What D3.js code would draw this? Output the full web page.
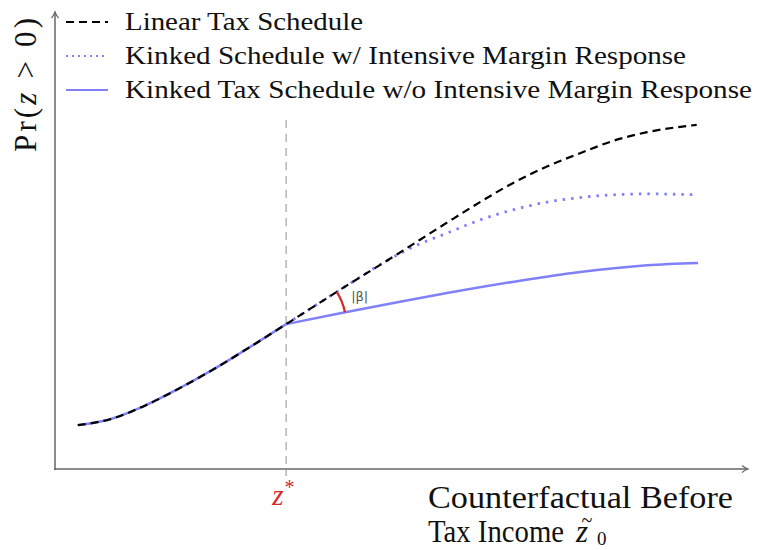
<!DOCTYPE html>
<html>
<head>
<meta charset="utf-8">
<script src="https://cdn.jsdelivr.net/npm/d3@7"></script>
<style>
  body { margin: 0; background: #fff; }
  svg { display: block; }
</style>
</head>
<body>
<div id="chart"></div>
<script>
// data (x = counterfactual income, y = Pr(z > 0))
var zStar = 3.35;

// common part, before the kink
var preX = [0.33, 0.80, 1.28, 1.77, 2.25, 2.72, 3.35];
var preY = [0.096, 0.109, 0.137, 0.174, 0.214, 0.257, 0.317];

// linear schedule, after the kink
var linX = [3.35, 4.13, 4.96, 5.68, 6.16, 6.64, 7.13, 7.61, 8.09, 8.58, 9.30];
var linY = [0.317, 0.392, 0.470, 0.539, 0.584, 0.626, 0.662, 0.691, 0.718, 0.737, 0.753];

// kinked schedule with intensive margin response
var dotX = [3.35, 4.13, 4.86, 5.19, 5.68, 6.16, 6.74, 7.13, 7.61, 8.09, 8.58, 9.30];
var dotY = [0.317, 0.392, 0.460, 0.486, 0.516, 0.545, 0.571, 0.584, 0.594, 0.600, 0.602, 0.600];

// kinked schedule without intensive margin response
var solX = [3.35, 4.17, 5.00, 5.72, 6.74, 7.61, 8.58, 9.32];
var solY = [0.317, 0.342, 0.366, 0.386, 0.412, 0.431, 0.446, 0.451];

var legendLabels = [
    "Linear Tax Schedule",
    "Kinked Schedule w/ Intensive Margin Response",
    "Kinked Tax Schedule w/o Intensive Margin Response"
];
var xLabel1 = "Counterfactual Before";
var xLabel2 = "Tax Income";

var blue = "#8080f8";
var red = "#d42a2a";
var serif = "'Liberation Serif', 'DejaVu Serif', serif";

function main() {
    var width = 758, height = 550;

    var svg = d3.select("#chart").append("svg")
        .attr("width", width)
        .attr("height", height);

    // scales
    var x = d3.scaleLinear().domain([0, 10]).range([55, 745]);
    var y = d3.scaleLinear().domain([0, 1]).range([469, 12]);

    function pts(xs, ys) {
        return xs.map(function (d, i) { return [d, ys[i]]; });
    }

    var line = d3.line()
        .x(function (d) { return x(d[0]); })
        .y(function (d) { return y(d[1]); })
        .curve(d3.curveMonotoneX);

    // vertical dashed line at z*
    svg.append("line")
        .attr("x1", x(zStar)).attr("x2", x(zStar))
        .attr("y1", 120).attr("y2", 476)
        .attr("stroke", "#aaa")
        .attr("stroke-width", 1.3)
        .attr("stroke-dasharray", "8,6");

    // axes with arrow heads
    var axisColor = "#666";
    svg.append("line")
        .attr("x1", x(0)).attr("x2", x(0))
        .attr("y1", y(0) + 1).attr("y2", 12)
        .attr("stroke", axisColor).attr("stroke-width", 1.5);
    svg.append("line")
        .attr("x1", x(0) - 1).attr("x2", 748)
        .attr("y1", y(0)).attr("y2", y(0))
        .attr("stroke", axisColor).attr("stroke-width", 1.5);
    svg.append("path")
        .attr("d", "M" + (x(0) - 3.5) + ",18 Q" + (x(0) - 1) + ",15 " + x(0) + ",12 Q" + (x(0) + 1) + ",15 " + (x(0) + 3.5) + ",18")
        .attr("fill", "none").attr("stroke", axisColor).attr("stroke-width", 1.2);
    svg.append("path")
        .attr("d", "M742," + (y(0) - 3.5) + " Q745," + (y(0) - 1) + " 748," + y(0) + " Q745," + (y(0) + 1) + " 742," + (y(0) + 3.5))
        .attr("fill", "none").attr("stroke", axisColor).attr("stroke-width", 1.2);

    // curves
    var curves = svg.append("g").attr("fill", "none");

    curves.append("path")
        .attr("d", line(pts(preX, preY)))
        .attr("stroke", blue).attr("stroke-width", 2.5);

    curves.append("path")
        .attr("d", line(pts(solX, solY)))
        .attr("stroke", blue).attr("stroke-width", 2.5);

    curves.append("path")
        .attr("d", line(pts(dotX, dotY)))
        .attr("stroke", blue).attr("stroke-width", 2.8)
        .attr("stroke-dasharray", "2.5,6");

    curves.append("path")
        .attr("d", line(pts(preX, preY).concat(pts(linX, linY).slice(1))))
        .attr("stroke", "#000").attr("stroke-width", 2.2)
        .attr("stroke-dasharray", "8,5");

    // angle |beta| between the linear and kinked schedules
    var kx = x(zStar), ky = y(preY[preY.length - 1]);
    var a1 = Math.atan2(y(linY[1]) - ky, x(linX[1]) - kx);
    var a2 = Math.atan2(y(solY[1]) - ky, x(solX[1]) - kx);
    var r = 60;
    var p = d3.path();
    p.arc(kx, ky, r, a1, a2, false);
    svg.append("path")
        .attr("d", p.toString())
        .attr("fill", "none")
        .attr("stroke", red).attr("stroke-width", 2.2);
    svg.append("text")
        .attr("x", kx + 65).attr("y", ky - 23)
        .attr("font-family", "'DejaVu Sans', sans-serif")
        .attr("font-size", 13)
        .attr("fill", "#555")
        .text("|β|");

    // z* label
    var zs = svg.append("text")
        .attr("x", kx - 14).attr("y", 505)
        .attr("font-family", serif)
        .attr("fill", red)
        .attr("font-size", 29);
    zs.append("tspan").attr("font-style", "italic").text("z");
    zs.append("tspan").attr("dx", 1).attr("dy", -11).attr("font-size", 20).text("*");

    // axis labels
    var yl = svg.append("text")
        .attr("transform", "translate(36,152) rotate(-90)")
        .attr("font-family", serif)
        .attr("font-size", 31)
        .attr("fill", "#111");
    yl.append("tspan").text("Pr(");
    yl.append("tspan").attr("font-style", "italic").text("z");
    yl.append("tspan").text(" > 0)");
    yl.attr("textLength", 134).attr("lengthAdjust", "spacing");

    svg.append("text")
        .attr("x", 428).attr("y", 508)
        .attr("font-family", serif)
        .attr("font-size", 31)
        .attr("fill", "#111")
        .attr("textLength", 305)
        .attr("lengthAdjust", "spacingAndGlyphs")
        .text(xLabel1);

    svg.append("text")
        .attr("x", 428).attr("y", 542)
        .attr("font-family", serif)
        .attr("font-size", 31)
        .attr("fill", "#111")
        .attr("textLength", 136)
        .attr("lengthAdjust", "spacingAndGlyphs")
        .text(xLabel2);
    svg.append("text")
        .attr("x", 576).attr("y", 542)
        .attr("font-family", serif)
        .attr("font-style", "italic")
        .attr("font-size", 31)
        .attr("fill", "#111")
        .text("z");
    svg.append("text")
        .attr("x", 587).attr("y", 527)
        .attr("text-anchor", "middle")
        .attr("font-family", serif)
        .attr("font-size", 20)
        .attr("fill", "#111")
        .text("~");
    svg.append("text")
        .attr("x", 597).attr("y", 545)
        .attr("font-family", serif)
        .attr("font-size", 19)
        .attr("fill", "#111")
        .text("0");

    // legend
    var legendStyles = [
        { stroke: "#000", dash: "8,5", w: 2.2 },
        { stroke: blue, dash: "2,4", w: 2.2 },
        { stroke: blue, dash: null, w: 2.2 }
    ];
    var legendWidths = [238, 561, 627];
    var legendY = [22, 56, 90];

    var legend = svg.append("g");
    legendLabels.forEach(function (label, i) {
        legend.append("line")
            .attr("x1", 66).attr("x2", 108)
            .attr("y1", legendY[i]).attr("y2", legendY[i])
            .attr("stroke", legendStyles[i].stroke)
            .attr("stroke-width", legendStyles[i].w)
            .attr("stroke-dasharray", legendStyles[i].dash);
        legend.append("text")
            .attr("x", 125).attr("y", legendY[i] + 8)
            .attr("font-family", serif)
            .attr("font-size", 25)
            .attr("fill", "#111")
            .attr("textLength", legendWidths[i])
            .attr("lengthAdjust", "spacingAndGlyphs")
            .text(label);
    });
}

main();
</script>
</body>
</html>
